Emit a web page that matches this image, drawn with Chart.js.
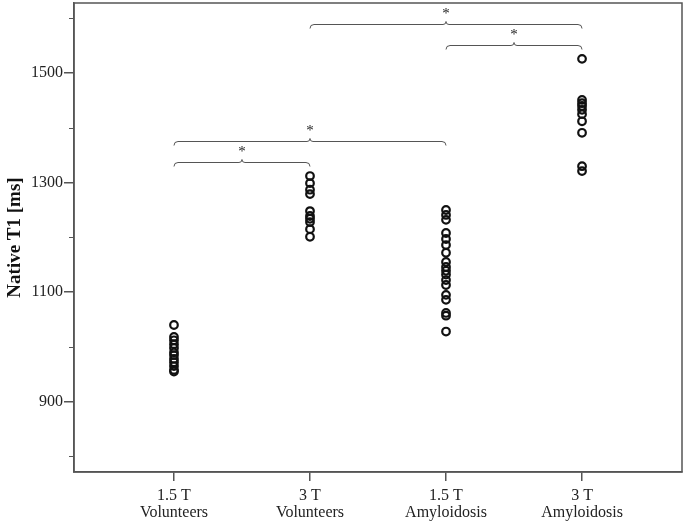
<!DOCTYPE html>
<html>
<head>
<meta charset="utf-8">
<script src="https://cdn.jsdelivr.net/npm/chart.js@4.4.1/dist/chart.umd.min.js"></script>
<style>
  html, body { margin: 0; padding: 0; background: #fff; }
  #wrap { width: 685px; height: 523px; }
</style>
</head>
<body>
<div id="wrap"><canvas id="chart"></canvas></div>
<script>
// groups on the x axis (two-line labels)
const groups = [['1.5 T', 'Volunteers'], ['3 T', 'Volunteers'], ['1.5 T', 'Amyloidosis'], ['3 T', 'Amyloidosis']];

// native T1 values [ms]
const vol15 = [1040, 1018, 1012, 1005, 998, 990, 985, 978, 972, 965, 958, 955];
const vol3 = [1312, 1299, 1287, 1279, 1248, 1239, 1234, 1228, 1215, 1201];
const amy15 = [1250, 1241, 1232, 1208, 1197, 1186, 1172, 1155, 1146, 1139, 1132, 1122, 1113, 1095, 1086, 1062, 1057, 1028];
const amy3 = [1526, 1451, 1445, 1440, 1433, 1425, 1412, 1391, 1330, 1321];

const yTicks = [800, 900, 1000, 1100, 1200, 1300, 1400, 1500, 1600];
const yLabelled = [900, 1100, 1300, 1500];

// significance brackets: [from group, to group, label]
const comparisons = [[1, 2, '*'], [1, 3, '*'], [3, 4, '*'], [2, 4, '*']];

const LINE = '#555';
const TEXT = '#222';
const FONT = 'Liberation Serif';

const series = [vol15, vol3, amy15, amy3];
const points = [];
series.forEach((vals, i) => vals.forEach(v => points.push({ x: i + 1, y: v })));

const bracketPlugin = {
  id: 'brackets',
  afterDatasetsDraw(chart, args, opts) {
    const { ctx, scales: { x, y } } = chart;
    ctx.save();
    ctx.strokeStyle = LINE;
    ctx.lineWidth = 1;
    comparisons.forEach((c, i) => {
      const x1 = x.getPixelForValue(c[0]);
      const x2 = x.getPixelForValue(c[1]);
      const yy = Math.round(y.getPixelForValue(opts.levels[i])) + 0.5;
      const xm = (x1 + x2) / 2;
      ctx.beginPath();
      ctx.moveTo(x1, yy + 4);
      ctx.quadraticCurveTo(x1, yy, x1 + 4, yy);
      ctx.lineTo(xm - 3, yy);
      ctx.quadraticCurveTo(xm, yy, xm, yy - 3);
      ctx.quadraticCurveTo(xm, yy, xm + 3, yy);
      ctx.lineTo(x2 - 4, yy);
      ctx.quadraticCurveTo(x2, yy, x2, yy + 4);
      ctx.stroke();
      ctx.fillStyle = TEXT;
      ctx.font = '15px "' + FONT + '"';
      ctx.textAlign = 'center';
      ctx.textBaseline = 'middle';
      ctx.fillText(c[2], xm, yy - 10);
    });
    ctx.restore();
  }
};

const framePlugin = {
  id: 'frame',
  afterDraw(chart) {
    const { ctx, chartArea: a, scales: { y } } = chart;
    ctx.save();
    ctx.strokeStyle = LINE;
    ctx.lineWidth = 1.5;
    ctx.strokeRect(a.left, a.top, a.right - a.left, a.bottom - a.top);
    // short minor ticks on the y axis
    ctx.lineWidth = 1;
    yTicks.filter(v => !yLabelled.includes(v)).forEach(v => {
      const py = Math.round(y.getPixelForValue(v)) + 0.5;
      ctx.beginPath();
      ctx.moveTo(a.left - 5, py);
      ctx.lineTo(a.left, py);
      ctx.stroke();
    });
    ctx.restore();
  }
};

new Chart(document.getElementById('chart'), {
  type: 'scatter',
  data: {
    datasets: [{
      data: points,
      pointRadius: 3.8,
      pointHoverRadius: 3.8,
      pointBorderWidth: 2.2,
      pointBorderColor: '#111',
      pointBackgroundColor: 'rgba(0,0,0,0)'
    }]
  },
  options: {
    responsive: true,
    maintainAspectRatio: false,
    animation: false,
    layout: { autoPadding: false, padding: { top: 3, right: 3, left: 0, bottom: 0 } },
    plugins: {
      legend: { display: false },
      tooltip: { enabled: false },
      brackets: { levels: [1338, 1376, 1551, 1589] }
    },
    scales: {
      x: {
        type: 'linear',
        min: 0.265,
        max: 4.735,
        afterBuildTicks: s => { s.ticks = groups.map((g, i) => ({ value: i + 1 })); },
        afterFit: s => { s.height = 51; s.paddingLeft = 0; s.paddingRight = 0; },
        border: { display: true, color: LINE, width: 1.5 },
        grid: { drawOnChartArea: false, tickLength: 9, tickColor: LINE, lineWidth: 1.5 },
        ticks: {
          color: TEXT,
          padding: 7,
          maxRotation: 0,
          font: { family: FONT, size: 16, lineHeight: 1.02 },
          callback: v => groups[v - 1]
        }
      },
      y: {
        min: 771.5,
        max: 1628,
        afterBuildTicks: s => { s.ticks = yTicks.map(v => ({ value: v })); },
        afterFit: s => { s.width = 74; s.paddingTop = 0; s.paddingBottom = 0; },
        border: { display: true, color: LINE, width: 1.5 },
        grid: {
          drawOnChartArea: false,
          tickLength: 10,
          lineWidth: 1.5,
          tickColor: c => yLabelled.includes(c.tick && c.tick.value) ? LINE : 'rgba(0,0,0,0)'
        },
        ticks: {
          color: TEXT,
          padding: 1,
          font: { family: FONT, size: 16 },
          callback: v => yLabelled.includes(v) ? String(v) : ''
        },
        title: {
          display: true,
          text: 'Native T1 [ms]',
          color: '#111',
          padding: { top: 4, bottom: 0 },
          font: { family: FONT, size: 19, weight: 'bold', lineHeight: 1.2 }
        }
      }
    }
  },
  plugins: [bracketPlugin, framePlugin]
});
</script>
</body>
</html>
